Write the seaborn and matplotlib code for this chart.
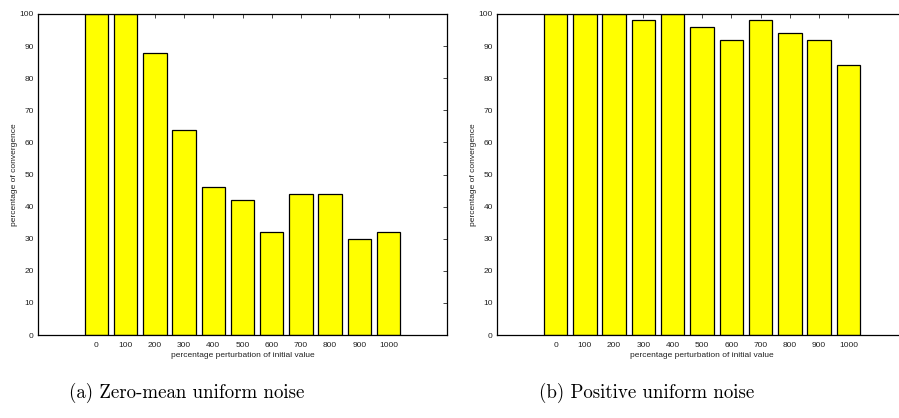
import numpy as np
import pandas as pd
import matplotlib
matplotlib.use("Agg")
import matplotlib.pyplot as plt
import seaborn as sns

perturbation = [0, 100, 200, 300, 400, 500, 600, 700, 800, 900, 1000]
zero_mean_conv = [100, 100, 88, 64, 46, 42, 32, 44, 44, 30, 32]
positive_conv = [100, 100, 100, 98, 100, 96, 92, 98, 94, 92, 84]
yticks = list(range(0, 101, 10))
captions = ["(a) Zero-mean uniform noise", "(b) Positive uniform noise"]

sns.set_style("white")
plt.rcParams["font.family"] = ["Liberation Sans", "DejaVu Sans"]

fig = plt.figure(figsize=(8.99, 4.18), dpi=100)
W, H = 899, 418
boxes = [(38, 14, 409, 321), (497, 14, 410, 321)]
cap_x = [187, 647]

for (x0, top, w, h), vals, cap, cx in zip(boxes, [zero_mean_conv, positive_conv], captions, cap_x):
    ax = fig.add_axes([x0 / W, (H - top - h) / H, w / W, h / H])
    df = pd.DataFrame({"x": perturbation, "y": vals})
    sns.barplot(data=df, x="x", y="y", native_scale=True, width=0.8,
                color="#FFFF00", saturation=1, edgecolor="black",
                linewidth=0.9, ax=ax)
    ax.set_xlim(-200, 1200)
    ax.set_ylim(0, 100)
    ax.set_xticks(perturbation)
    ax.set_yticks(yticks)
    ax.tick_params(direction="in", length=3, width=0.6, labelsize=6,
                   labelcolor="#222222", top=True, right=True, pad=5)
    ax.tick_params(axis="y", pad=3)
    for s in ax.spines.values():
        s.set_visible(True)
        s.set_color("black")
        s.set_linewidth(0.9)
    ax.set_xlabel("percentage perturbation of initial value", fontsize=6,
                  color="#222222", labelpad=2)
    ax.set_ylabel("percentage of convergence", fontsize=6,
                  color="#222222", labelpad=1)
    fig.text(cx / W, (H - 393) / H, cap, ha="center", va="center",
             fontsize=13.6, color="black", family=["cmr10", "DejaVu Serif"])

fig.savefig("out.png", dpi=100)
